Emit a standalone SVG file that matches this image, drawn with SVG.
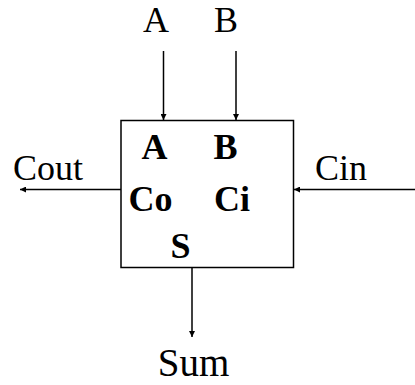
<svg xmlns="http://www.w3.org/2000/svg" width="415" height="385" viewBox="0 0 415 385">
  <style>
    .lbl { font-family: "Liberation Serif", "Times New Roman", serif; font-size: 36px; fill: #000; }
    .port { font-family: "Liberation Serif", "Times New Roman", serif; font-size: 36px; font-weight: bold; fill: #000; }
    .wire { stroke: #000; stroke-width: 1.5; fill: none; marker-end: url(#head); }
  </style>
  <defs>
    <marker id="head" viewBox="0 0 6 6" refX="6" refY="3" markerWidth="6" markerHeight="6" markerUnits="userSpaceOnUse" orient="auto">
      <path d="M0,0 L6,3 L0,6 Z" fill="#000"/>
    </marker>
  </defs>
  <rect width="415" height="385" fill="#fff"/>

  <!-- full adder block with its port names -->
  <g id="adder">
    <rect x="121" y="120.5" width="172.5" height="147" fill="#fff" stroke="#000" stroke-width="1.5"/>
    <text class="port" x="154.5" y="159" text-anchor="middle">A</text>
    <text class="port" x="225.5" y="159" text-anchor="middle">B</text>
    <text class="port" x="150.5" y="211" text-anchor="middle">Co</text>
    <text class="port" x="232" y="211" text-anchor="middle">Ci</text>
    <text class="port" x="180.5" y="258" text-anchor="middle">S</text>
  </g>

  <!-- external signal names -->
  <g id="in-a"><text class="lbl" x="156" y="32" text-anchor="middle">A</text></g>
  <g id="in-b"><text class="lbl" x="226" y="32" text-anchor="middle">B</text></g>
  <g id="out-cout"><text class="lbl" x="13" y="180">Cout</text></g>
  <g id="in-cin"><text class="lbl" x="315" y="180">Cin</text></g>
  <g id="out-sum"><text class="lbl" x="193.5" y="376" text-anchor="middle" style="font-size:39px">Sum</text></g>

  <!-- signal wires -->
  <g id="connectors">
    <line class="wire" x1="163.5" y1="51" x2="163.5" y2="120"/>
    <line class="wire" x1="236" y1="51" x2="236" y2="120"/>
    <line class="wire" x1="121" y1="189.5" x2="20" y2="189.5"/>
    <line class="wire" x1="415" y1="189.5" x2="294" y2="189.5"/>
    <line class="wire" x1="192" y1="268" x2="192" y2="337"/>
  </g>
</svg>
